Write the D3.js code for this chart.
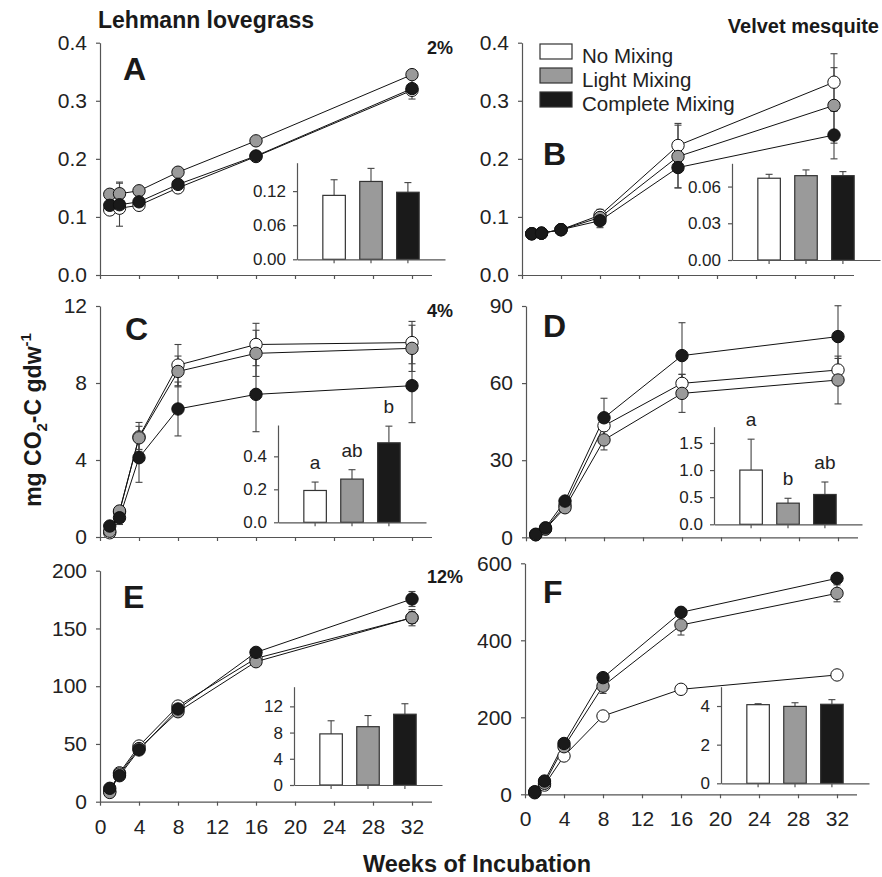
<!DOCTYPE html>
<html><head><meta charset="utf-8">
<script src="https://cdn.jsdelivr.net/npm/d3@7"></script>
<style>
body{margin:0;background:#fff;}
svg{display:block;font-family:"Liberation Sans",Arial,Helvetica,sans-serif;}
</style></head><body>
<svg id="chart" width="882" height="877"></svg>
<script>
// ---------------- DATA ----------------
const weeks = [1, 2, 4, 8, 16, 32];
const treatments = ["No Mixing", "Light Mixing", "Complete Mixing"];
const xTickValues = [0, 4, 8, 12, 16, 20, 24, 28, 32];

// Panel A (Lehmann lovegrass, 2%)
const aNone = [0.112, 0.115, 0.120, 0.150, 0.204, 0.318];
const aNoneErr = [0.004, 0.005, 0.004, 0.004, 0.004, 0.006];
const aLight = [0.139, 0.140, 0.145, 0.177, 0.231, 0.345];
const aLightErr = [0.004, 0.02, 0.004, 0.004, 0.004, 0.004];
const aComplete = [0.120, 0.121, 0.126, 0.156, 0.205, 0.321];
const aCompleteErr = [0.005, 0.037, 0.005, 0.005, 0.004, 0.018];
// Panel B (Velvet mesquite, 2%)
const bNone = [0.071, 0.072, 0.078, 0.103, 0.223, 0.332];
const bNoneErr = [0.002, 0.002, 0.003, 0.01, 0.038, 0.049];
const bLight = [0.071, 0.072, 0.078, 0.099, 0.204, 0.292];
const bLightErr = [0.002, 0.002, 0.003, 0.008, 0.054, 0.065];
const bComplete = [0.071, 0.072, 0.078, 0.0935, 0.185, 0.241];
const bCompleteErr = [0.002, 0.002, 0.003, 0.012, 0.035, 0.041];
// Panel C (Lehmann lovegrass, 4%)
const cNone = [0.22, 1.3, 5.2, 8.93, 10.0, 10.1];
const cNoneErr = [0.1, 0.2, 0.75, 1.07, 1.1, 1.1];
const cLight = [0.3, 1.35, 5.15, 8.6, 9.54, 9.8];
const cLightErr = [0.1, 0.2, 0.6, 0.8, 1.2, 1.2];
const cComplete = [0.57, 1.0, 4.12, 6.65, 7.41, 7.86];
const cCompleteErr = [0.1, 0.35, 1.28, 1.4, 1.94, 1.92];
// Panel D (Velvet mesquite, 4%)
const dNone = [1.0, 3.3, 12.5, 43.4, 59.9, 65.1];
const dNoneErr = [0.3, 0.5, 1, 2, 3.5, 4.5];
const dLight = [1.0, 3.2, 11.5, 37.9, 56.0, 61.2];
const dLightErr = [0.3, 0.5, 1, 3.9, 7.4, 9.3];
const dComplete = [1.2, 3.7, 14.1, 46.5, 70.7, 78.1];
const dCompleteErr = [0.3, 0.5, 1, 7.6, 12.8, 12.0];
// Panel E (Lehmann lovegrass, 12%)
const eNone = [9, 25, 48.2, 82.8, 124.1, 159.3];
const eNoneErr = [1, 1.5, 2, 2, 2.5, 5];
const eLight = [8, 24, 46, 77.9, 121.2, 159.3];
const eLightErr = [1, 1.5, 2, 2, 3, 7];
const eComplete = [11.6, 22.5, 44.8, 80.3, 129.3, 175.5];
const eCompleteErr = [1, 1.5, 2, 2, 2.5, 6.5];
// Panel F (Velvet mesquite, 12%)
const fNone = [4, 24, 99.5, 203.4, 272.7, 310];
const fNoneErr = [1, 2, 3, 4, 5, 6];
const fLight = [5, 28.5, 123.6, 281, 439.7, 522];
const fLightErr = [1, 3, 5, 19, 26, 22];
const fComplete = [6.8, 34.5, 132, 303, 472.7, 561];
const fCompleteErr = [1, 3, 5, 6, 8, 8];

// Inset bar values (per treatment)
const insetA = [0.1125, 0.137, 0.118];
const insetAErr = [0.0275, 0.023, 0.017];
const insetB = [0.0668, 0.0689, 0.0689];
const insetBErr = [0.0032, 0.0047, 0.0033];
const insetC = [0.193, 0.262, 0.482];
const insetCErr = [0.051, 0.057, 0.101];
const insetD = [1.0, 0.39, 0.55];
const insetDErr = [0.57, 0.09, 0.23];
const insetE = [7.8, 8.9, 10.8];
const insetEErr = [2.0, 1.7, 1.6];
const insetF = [4.07, 3.98, 4.09];
const insetFErr = [0.05, 0.19, 0.24];
const insetLettersC = ["a", "ab", "b"];
const insetLettersD = ["a", "b", "ab"];

// Tick values
const yTicksA = [0, 0.1, 0.2, 0.3, 0.4];
const yTicksB = [0, 0.1, 0.2, 0.3, 0.4];
const yTicksC = [0, 4, 8, 12];
const yTicksD = [0, 30, 60, 90];
const yTicksE = [0, 50, 100, 150, 200];
const yTicksF = [0, 200, 400, 600];
const insetTicksA = [0, 0.06, 0.12];
const insetTicksB = [0, 0.03, 0.06];
const insetTicksC = [0, 0.2, 0.4];
const insetTicksD = [0, 0.5, 1.0, 1.5];
const insetTicksE = [0, 4, 8, 12];
const insetTicksF = [0, 2, 4];

// ---------------- STYLE / LAYOUT ----------------
const fills = ["#ffffff", "#9a9a9a", "#1a1a1a"];
const axisColor = "#555";
const textColor = "#222";
const svg = d3.select("#chart");

const panels = [
  {letter: "A", series: [aNone, aLight, aComplete], errs: [aNoneErr, aLightErr, aCompleteErr],
   yMax: 0.4, yTicks: yTicksA, yFmt: d3.format(".1f"), x0: 100, yB: 275, yT: 42.7, showX: false,
   letterPos: [123, 80], pct: "2%", pctY: 54,
   inset: {vals: insetA, errs: insetAErr, max: 0.17, ticks: insetTicksA, fmt: d3.format(".2f"), L: 297, base: 259.3, top: 162.7}},
  {letter: "B", series: [bNone, bLight, bComplete], errs: [bNoneErr, bLightErr, bCompleteErr],
   yMax: 0.4, yTicks: yTicksB, yFmt: d3.format(".1f"), x0: 522, yB: 275, yT: 42.7, showX: false,
   letterPos: [543, 165],
   inset: {vals: insetB, errs: insetBErr, max: 0.079, ticks: insetTicksB, fmt: d3.format(".2f"), L: 732, base: 260, top: 163.3}},
  {letter: "C", series: [cNone, cLight, cComplete], errs: [cNoneErr, cLightErr, cCompleteErr],
   yMax: 12, yTicks: yTicksC, yFmt: d3.format("d"), x0: 100, yB: 537, yT: 306, showX: false,
   letterPos: [125, 340], pct: "4%", pctY: 317,
   inset: {vals: insetC, errs: insetCErr, max: 0.59, ticks: insetTicksC, fmt: d3.format(".1f"), L: 278, base: 522.3, top: 425, letters: insetLettersC}},
  {letter: "D", series: [dNone, dLight, dComplete], errs: [dNoneErr, dLightErr, dCompleteErr],
   yMax: 90, yTicks: yTicksD, yFmt: d3.format("d"), x0: 526, yB: 537.3, yT: 306, showX: false,
   letterPos: [543, 337],
   inset: {vals: insetD, errs: insetDErr, max: 1.8, ticks: insetTicksD, fmt: d3.format(".1f"), L: 714, base: 524.3, top: 426.7, letters: insetLettersD}},
  {letter: "E", series: [eNone, eLight, eComplete], errs: [eNoneErr, eLightErr, eCompleteErr],
   yMax: 200, yTicks: yTicksE, yFmt: d3.format("d"), x0: 100, yB: 801.7, yT: 570.7, showX: true,
   letterPos: [123, 608], pct: "12%", pctY: 583,
   inset: {vals: insetE, errs: insetEErr, max: 15, ticks: insetTicksE, fmt: d3.format("d"), L: 294, base: 785, top: 686.7}},
  {letter: "F", series: [fNone, fLight, fComplete], errs: [fNoneErr, fLightErr, fCompleteErr],
   yMax: 600, yTicks: yTicksF, yFmt: d3.format("d"), x0: 525, yB: 794.3, yT: 563.3, showX: true,
   letterPos: [543, 603],
   inset: {vals: insetF, errs: insetFErr, max: 5, ticks: insetTicksF, fmt: d3.format("d"), L: 721, base: 783.3, top: 686.7}}
];

function styleAxis(g, fontSize) {
  g.select(".domain").attr("stroke", axisColor).attr("stroke-width", 1.2);
  g.selectAll(".tick line").attr("stroke", axisColor).attr("stroke-width", 1.2);
  g.selectAll(".tick text").attr("fill", textColor).attr("font-size", fontSize)
    .attr("font-family", '"Liberation Sans",Arial,sans-serif');
}

function drawPanel(p) {
  const g = svg.append("g");
  const x = d3.scaleLinear().domain([0, 34]).range([p.x0, p.x0 + 331.5]);
  const y = d3.scaleLinear().domain([0, p.yMax]).range([p.yB, p.yT]);

  const xAxis = d3.axisBottom(x).tickValues(xTickValues).tickSize(4).tickSizeOuter(0)
    .tickPadding(13).tickFormat(p.showX ? d3.format("d") : () => "");
  g.append("g").attr("transform", `translate(0,${p.yB})`).call(xAxis).call(a => styleAxis(a, 21));
  const yAxis = d3.axisLeft(y).tickValues(p.yTicks).tickSize(4).tickSizeOuter(0)
    .tickPadding(9).tickFormat(p.yFmt);
  g.append("g").attr("transform", `translate(${p.x0},0)`).call(yAxis).call(a => styleAxis(a, 21));

  // inset
  const ins = p.inset;
  const bx = d3.scaleBand().domain(treatments).range([ins.L, ins.L + 148]).paddingInner(0.39).paddingOuter(0.7);
  const by = d3.scaleLinear().domain([0, ins.max]).range([ins.base, ins.top]);
  const ig = g.append("g");
  ig.selectAll("line.ie").data(treatments).join("line")
    .attr("x1", d => bx(d) + bx.bandwidth() / 2).attr("x2", d => bx(d) + bx.bandwidth() / 2)
    .attr("y1", (d, i) => by(ins.vals[i])).attr("y2", (d, i) => by(ins.vals[i] + ins.errs[i]))
    .attr("stroke", "#444").attr("stroke-width", 1.1);
  ig.selectAll("line.ic").data(treatments).join("line")
    .attr("x1", d => bx(d) + bx.bandwidth() / 2 - 3.5).attr("x2", d => bx(d) + bx.bandwidth() / 2 + 3.5)
    .attr("y1", (d, i) => by(ins.vals[i] + ins.errs[i])).attr("y2", (d, i) => by(ins.vals[i] + ins.errs[i]))
    .attr("stroke", "#444").attr("stroke-width", 1.1);
  ig.selectAll("rect.bar").data(treatments).join("rect")
    .attr("x", d => bx(d)).attr("width", bx.bandwidth())
    .attr("y", (d, i) => by(ins.vals[i])).attr("height", (d, i) => ins.base - by(ins.vals[i]))
    .attr("fill", (d, i) => fills[i]).attr("stroke", "#333").attr("stroke-width", 1.2);
  const ixAxis = d3.axisBottom(bx).tickSize(4).tickSizeOuter(0).tickFormat(() => "");
  ig.append("g").attr("transform", `translate(0,${ins.base})`).call(ixAxis).call(a => styleAxis(a, 16));
  const iyAxis = d3.axisLeft(by).tickValues(ins.ticks).tickSize(4).tickSizeOuter(0).tickPadding(7).tickFormat(ins.fmt);
  ig.append("g").attr("transform", `translate(${ins.L},0)`).call(iyAxis).call(a => styleAxis(a, 17));
  if (ins.letters) {
    ig.selectAll("text.lt").data(treatments).join("text")
      .attr("x", d => bx(d) + bx.bandwidth() / 2)
      .attr("y", (d, i) => by(ins.vals[i] + ins.errs[i]) - 13)
      .attr("text-anchor", "middle").attr("font-size", 19).attr("fill", textColor)
      .text((d, i) => ins.letters[i]);
  }

  // lines
  const line = d3.line().x((v, i) => x(weeks[i])).y(v => y(v));
  p.series.forEach(s => {
    g.append("path").attr("d", line(s)).attr("fill", "none").attr("stroke", "#111").attr("stroke-width", 1);
  });
  // error bars (under markers)
  p.series.forEach((s, k) => {
    const e = p.errs[k];
    const eg = g.append("g").attr("stroke", "#444").attr("stroke-width", 1.1);
    eg.selectAll(null).data(s).join("line")
      .attr("x1", (v, i) => x(weeks[i])).attr("x2", (v, i) => x(weeks[i]))
      .attr("y1", (v, i) => y(v - e[i])).attr("y2", (v, i) => y(v + e[i]));
    [-1, 1].forEach(sg => {
      eg.selectAll(null).data(s).join("line")
        .attr("x1", (v, i) => x(weeks[i]) - 3.5).attr("x2", (v, i) => x(weeks[i]) + 3.5)
        .attr("y1", (v, i) => y(v + sg * e[i])).attr("y2", (v, i) => y(v + sg * e[i]));
    });
  });
  // markers
  p.series.forEach((s, k) => {
    g.selectAll(null).data(s).join("circle")
      .attr("cx", (v, i) => x(weeks[i])).attr("cy", v => y(v)).attr("r", 6.2)
      .attr("fill", fills[k]).attr("stroke", "#111").attr("stroke-width", 1);
  });

  g.append("text").attr("x", p.letterPos[0]).attr("y", p.letterPos[1])
    .attr("font-size", 32).attr("font-weight", "bold").attr("fill", "#1a1a1a").text(p.letter);
  if (p.pct) {
    g.append("text").attr("x", 427).attr("y", p.pctY)
      .attr("font-size", 18).attr("font-weight", "bold").attr("fill", "#1a1a1a").text(p.pct);
  }
}
panels.forEach(drawPanel);

// Titles
svg.append("text").attr("x", 98).attr("y", 28).attr("font-size", 23).attr("font-weight", "bold")
  .attr("fill", "#1a1a1a").text("Lehmann lovegrass");
svg.append("text").attr("x", 879).attr("y", 33).attr("text-anchor", "end").attr("font-size", 20)
  .attr("font-weight", "bold").attr("fill", "#1a1a1a").text("Velvet mesquite");
svg.append("text").attr("x", 477).attr("y", 872).attr("text-anchor", "middle").attr("font-size", 23.5)
  .attr("font-weight", "bold").attr("fill", "#1a1a1a").text("Weeks of Incubation");
const yt = svg.append("text").attr("transform", "translate(41,420) rotate(-90)").attr("text-anchor", "middle")
  .attr("font-size", 23).attr("font-weight", "bold").attr("fill", "#1a1a1a");
yt.append("tspan").text("mg CO");
yt.append("tspan").attr("font-size", 15).attr("dy", 6).text("2");
yt.append("tspan").attr("dy", -6).text("-C gdw");
yt.append("tspan").attr("font-size", 15).attr("dy", -10).text("-1");

// Legend
const legY = [44, 68, 92];
const lg = svg.append("g");
lg.selectAll("rect").data(treatments).join("rect")
  .attr("x", 540).attr("y", (d, i) => legY[i]).attr("width", 32).attr("height", 15)
  .attr("fill", (d, i) => fills[i]).attr("stroke", "#333").attr("stroke-width", 1.2);
lg.selectAll("text").data(treatments).join("text")
  .attr("x", 582).attr("y", (d, i) => legY[i] + 19).attr("font-size", 20.5).attr("fill", textColor)
  .text(d => d);
</script>
</body></html>
